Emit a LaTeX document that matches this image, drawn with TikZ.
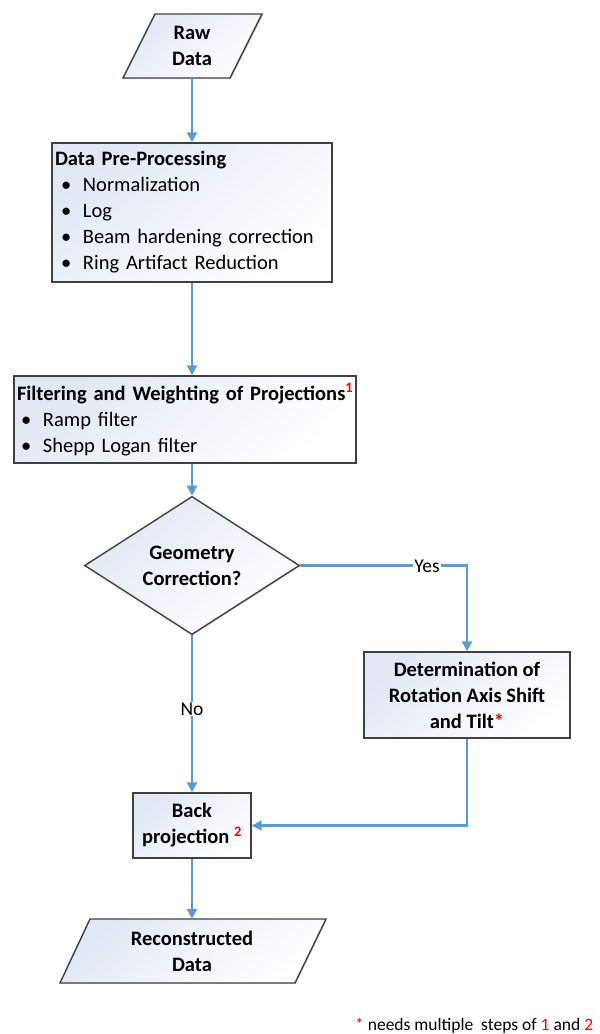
\documentclass[tikz,border=0pt]{standalone}
\usepackage{fontspec}
\setmainfont{Carlito}
\usetikzlibrary{shapes.geometric,arrows.meta,shadows}
\definecolor{arrowblue}{HTML}{5B9BD5}
\definecolor{boxgray}{HTML}{404040}
\definecolor{fillblue}{HTML}{E1E8F4}
\definecolor{notered}{HTML}{FF0000}
\begin{document}
\begin{tikzpicture}[x=1pt,y=-1pt,
  txt/.style={font=\fontsize{20.5}{26}\selectfont},
  shapefill/.style={draw=boxgray, line width=1.4pt, top color=fillblue, bottom color=white, shading angle=40,
    drop shadow={shadow xshift=1pt, shadow yshift=-1pt, opacity=0.25}},
  procbox/.style={shapefill, rectangle, inner sep=0pt, txt},
  flow/.style={draw=arrowblue, line width=2.2pt, -{Triangle[length=10pt,width=10pt]}},
  lbl/.style={fill=white, inner sep=1pt, font=\fontsize{19.5}{24}\selectfont}
]
\useasboundingbox (0,0) rectangle (600,1034);
\def\bul{\hspace*{6pt}\makebox[22pt][l]{\textbullet}}
% Raw data parallelogram
\path[shapefill] (155,14) -- (262,14) -- (230,78) -- (123,78) -- cycle;
\node[txt, minimum width=100pt, minimum height=64pt, inner sep=0pt, align=center] (raw) at (192,46) {\textbf{Raw}\\\textbf{Data}};
% Pre-processing
\node[procbox, minimum width=280pt, minimum height=139pt, text width=274pt, align=left] (pre) at (192,212.5)
 {\mbox{\textbf{Data Pre-Processing}}\\
  \mbox{\bul Normalization}\\
  \mbox{\bul Log}\\
  \mbox{\bul Beam hardening correction}\\
  \mbox{\bul Ring Artifact Reduction}};
% Filtering
\node[procbox, minimum width=342pt, minimum height=87pt, text width=336pt, align=left] (filt) at (185,419.5)
 {\mbox{\textbf{Filtering and Weighting of Projections}\textsuperscript{\textcolor{notered}{\bfseries 1}}}\\
  \mbox{\hspace*{-2pt}\bul Ramp filter}\\
  \mbox{\hspace*{-2pt}\bul Shepp Logan filter}};
% Diamond
\node[shapefill, diamond, minimum width=215pt, minimum height=111pt, inner sep=0pt, txt, align=center] (geo) at (192,565.5)
 {\textbf{Geometry}\\\textbf{Correction?}};
% Determination
\node[procbox, minimum width=206pt, minimum height=86pt, align=center] (det) at (467,695)
 {\textbf{Determination of}\\\textbf{Rotation Axis Shift}\\\textbf{and Tilt}\textcolor{notered}{\textbf{*}}};
% Back projection
\node[procbox, minimum width=118pt, minimum height=65pt, align=center] (back) at (192,825.5)
 {\textbf{Back}\\\textbf{projection }\textsuperscript{\textcolor{notered}{\bfseries 2}}};
% Reconstructed parallelogram
\path[shapefill] (90,919) -- (326,919) -- (295,983) -- (60,983) -- cycle;
\node[txt, minimum width=200pt, minimum height=64pt, inner sep=0pt, align=center] (rec) at (192,951) {\textbf{Reconstructed}\\\textbf{Data}};
% connectors
\draw[flow] (raw.south) -- (raw.south |- pre.north);
\draw[flow] (raw.south |- pre.south) -- (raw.south |- filt.north);
\draw[flow] (raw.south |- filt.south) -- (geo.north);
\draw[flow] (geo.east) -- (det.north |- geo.east) -- (det.north);
\node[lbl] (yes) at (427,566) {Yes};
\draw[flow] (geo.south) -- (back.north);
\node[lbl] (no) at (192,709) {No};
\draw[flow] (det.south) -- (det.south |- back.east) -- (back.east);
\draw[flow] (back.south) -- (rec.north);
% footnote
\node[font=\fontsize{17.5}{21}\selectfont, anchor=base west, inner sep=0pt] (note) at (355,1030)
 {\textcolor{notered}{*} needs multiple\ \ steps of \textcolor{notered}{1} and \textcolor{notered}{2}};
\end{tikzpicture}
\end{document}
